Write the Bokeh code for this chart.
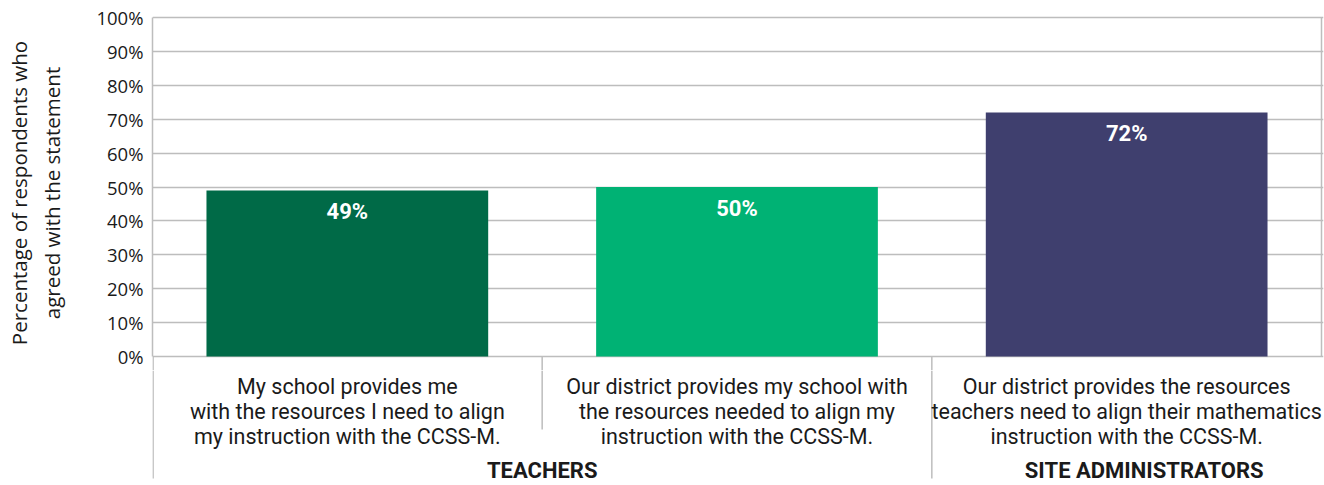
from bokeh.plotting import figure
from bokeh.layouts import column
from bokeh.models import Range1d, FixedTicker, ColumnDataSource
from bokeh.core.properties import value
from bokeh.embed import file_html
from bokeh.resources import INLINE

# ---------------- data ----------------
category_lines = [
    ["My school provides me", "with the resources I need to align", "my instruction with the CCSS-M."],
    ["Our district provides my school with", "the resources needed to align my", "instruction with the CCSS-M."],
    ["Our district provides the resources", "teachers need to align their mathematics", "instruction with the CCSS-M."],
]
values_pct = [49, 50, 72]
bar_colors = ["#006a47", "#00b274", "#3f3f6e"]
groups = ["TEACHERS", "SITE ADMINISTRATORS"]
group_first_cat = [0, 2]
group_n_cats = [2, 1]
y_ticks = [0, 10, 20, 30, 40, 50, 60, 70, 80, 90, 100]
y_tick_labels = [f"{t}%" for t in y_ticks]
y_title = "Percentage of respondents who\nagreed with the statement"

# ---------------- layout ----------------
W, H = 1324, 485
FL, FR = 152, 1323           # frame left/right (px)
FT = 15                      # frame top
Y100, Y0 = 17, 356           # px of 100% and 0%
H1 = 370                     # height of the bar figure
H2 = H - H1                  # height of the label strip below
ppu = (Y0 - Y100) / 100.0
y_end = 100 + (Y100 - FT) / ppu
y_start = -(H1 - Y0) / ppu
n = len(values_pct)
x_range = Range1d(0, n * (FR - FL) / (1321 - FL))

TXT = "#1a1a1a"
GRID = "#bdbdbd"

group_bounds = set()
for f, k in zip(group_first_cat, group_n_cats):
    group_bounds.add(f)
    group_bounds.add(f + k)

# ---------------- bar figure ----------------
p = figure(width=W, height=H1, output_backend="svg", toolbar_location=None,
           x_range=x_range, y_range=Range1d(y_start, y_end), x_axis_location=None,
           min_border_left=FL, min_border_right=W - FR,
           min_border_top=FT, min_border_bottom=0)
p.outline_line_color = None
p.border_fill_color = "white"
p.xgrid.visible = False

p.yaxis.bounds = (0, 100)
p.yaxis.ticker = FixedTicker(ticks=y_ticks)
p.yaxis.major_label_overrides = dict(zip(y_ticks, y_tick_labels))
p.yaxis.major_tick_line_color = None
p.yaxis.minor_tick_line_color = None
p.yaxis.major_tick_out = 0
p.yaxis.major_tick_in = 0
p.yaxis.major_label_standoff = 9
p.yaxis.major_label_text_font = "Open Sans"
p.yaxis.major_label_text_font_size = "18.5px"
p.yaxis.major_label_text_color = TXT
p.yaxis.axis_line_color = GRID
p.yaxis.axis_line_width = 1.5
p.yaxis.axis_label = y_title
p.yaxis.axis_label_text_font = "Open Sans"
p.yaxis.axis_label_text_font_size = "20.5px"
p.yaxis.axis_label_text_font_style = "normal"
p.yaxis.axis_label_text_color = TXT
p.yaxis.axis_label_standoff = 27

p.ygrid.ticker = FixedTicker(ticks=y_ticks)
p.ygrid.grid_line_color = GRID
p.ygrid.grid_line_width = 1.5

centers = [i + 0.5 for i in range(n)]
src = ColumnDataSource(dict(x=centers, top=values_pct, color=bar_colors,
                            label=[f"{v}%" for v in values_pct]))
p.vbar(x="x", top="top", bottom=0, width=0.723, color="color", line_color=None, source=src)
p.text(x="x", y="top", text="label", source=src, text_color="white",
       text_font=value("Roboto"), text_font_style="bold", text_font_size="22px",
       text_align="center", text_baseline="middle", y_offset=21)
# right border of the plot area
p.segment(x0=[n], y0=[0], x1=[n], y1=[100], line_color=GRID, line_width=1.5)
# start of the vertical separators just below the 0% line
psx = [0.0015] + list(range(1, n))
p.segment(x0=psx, y0=[0] * len(psx), x1=psx, y1=[y_start] * len(psx),
          line_color=GRID, line_width=1.5)

# ---------------- label strip below ----------------
q = figure(width=W, height=H2, output_backend="svg", toolbar_location=None,
           x_range=x_range, y_range=Range1d(-H2, 0),
           x_axis_location=None, y_axis_location=None,
           min_border_left=FL, min_border_right=W - FR,
           min_border_top=0, min_border_bottom=0)
q.outline_line_color = None
q.border_fill_color = "white"
q.grid.visible = False

def yq(sy):
    return -(sy - H1)

sx, sy1 = [0.0015], [yq(478)]
for b in range(1, n):
    sx.append(b)
    sy1.append(yq(478) if b in group_bounds else yq(429))
q.segment(x0=sx, y0=[0] * len(sx), x1=sx, y1=sy1, line_color=GRID, line_width=1.5)

line_ys = [yq(386), yq(411), yq(436)]
lx, ly, lt = [], [], []
for i, lines in enumerate(category_lines):
    for j, t in enumerate(lines):
        lx.append(centers[i]); ly.append(line_ys[j]); lt.append(t)
q.text(x=lx, y=ly, text=lt, text_color=TXT, text_font=value("Roboto"),
       text_font_size="21.5px", text_align="center", text_baseline="middle")

gx = []
for f, k in zip(group_first_cat, group_n_cats):
    c = f + k / 2.0
    if k == 1:
        c += 0.045
    gx.append(c)
q.text(x=gx, y=[yq(470)] * len(groups), text=groups, text_color=TXT,
       text_font=value("Roboto"), text_font_style="bold", text_font_size="22px",
       text_align="center", text_baseline="middle")

layout = column(p, q, spacing=0)
open("out.html", "w").write(file_html(layout, INLINE))
